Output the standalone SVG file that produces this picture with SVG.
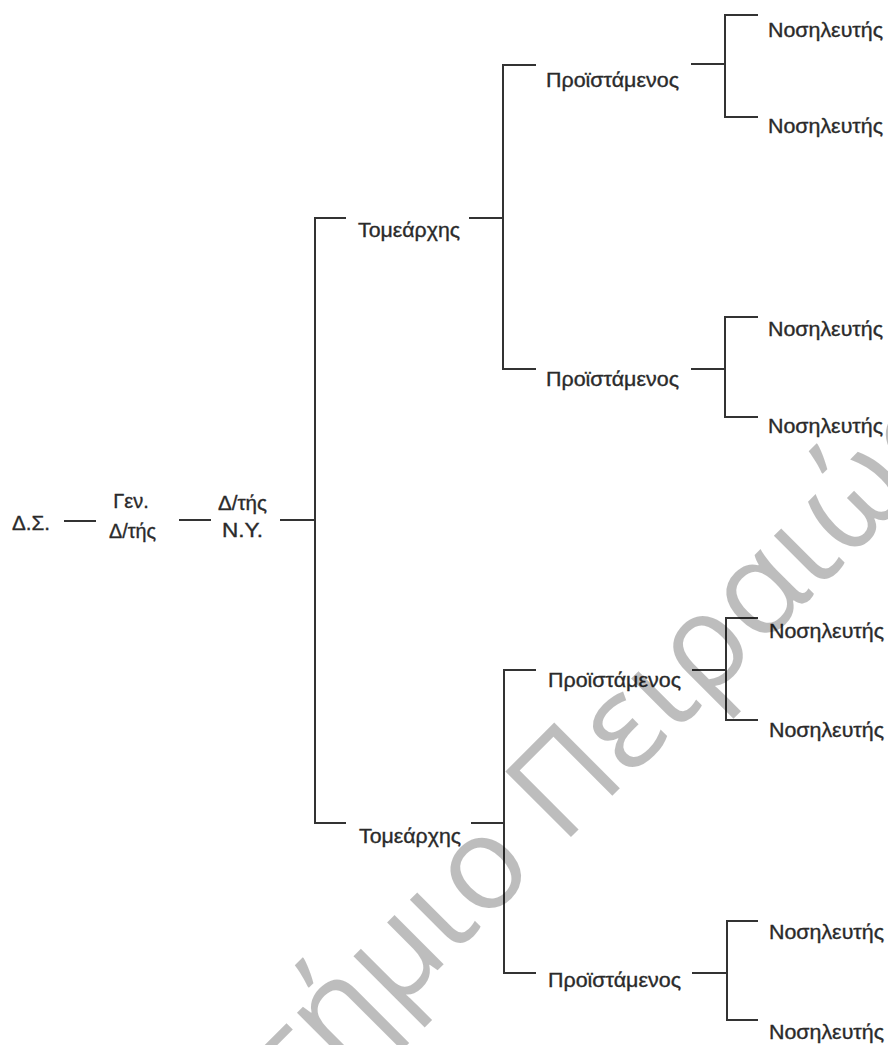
<svg xmlns="http://www.w3.org/2000/svg" width="888" height="1045" viewBox="0 0 888 1045">
<style>
.t{font-family:"Liberation Sans","DejaVu Sans",sans-serif;font-size:20px;fill:#2a2a2a;stroke:#2a2a2a;stroke-width:0.35}
.c line{stroke:#333;stroke-width:2;stroke-linecap:square}
.wm{font-family:"Open Sans","DejaVu Sans",sans-serif;font-weight:400;font-size:130px;fill:#000;fill-opacity:0.26}
</style>
<rect width="888" height="1045" fill="#fff"/>
<g class="c" id="connectors">
<line x1="65" y1="521" x2="95" y2="521"/>
<line x1="180" y1="520" x2="210" y2="520"/>
<line x1="281" y1="520" x2="315" y2="520"/>
<line x1="315" y1="218" x2="315" y2="823"/>
<line x1="315" y1="218" x2="345" y2="218"/>
<line x1="315" y1="823" x2="345" y2="823"/>
<line x1="470" y1="218" x2="503" y2="218"/>
<line x1="503" y1="65" x2="503" y2="369"/>
<line x1="503" y1="65" x2="535" y2="65"/>
<line x1="503" y1="369" x2="535" y2="369"/>
<line x1="692" y1="64" x2="725" y2="64"/>
<line x1="725" y1="15" x2="725" y2="117"/>
<line x1="725" y1="15" x2="757" y2="15"/>
<line x1="725" y1="117" x2="757" y2="117"/>
<line x1="692" y1="369" x2="725" y2="369"/>
<line x1="725" y1="317" x2="725" y2="417"/>
<line x1="725" y1="317" x2="757" y2="317"/>
<line x1="725" y1="417" x2="757" y2="417"/>
<line x1="472" y1="823" x2="504" y2="823"/>
<line x1="504" y1="670" x2="504" y2="973"/>
<line x1="504" y1="670" x2="535" y2="670"/>
<line x1="504" y1="973" x2="535" y2="973"/>
<line x1="693" y1="670" x2="726" y2="670"/>
<line x1="726" y1="618" x2="726" y2="720"/>
<line x1="726" y1="618" x2="757" y2="618"/>
<line x1="726" y1="720" x2="757" y2="720"/>
<line x1="693" y1="973" x2="727" y2="973"/>
<line x1="727" y1="921" x2="727" y2="1020"/>
<line x1="727" y1="921" x2="757" y2="921"/>
<line x1="727" y1="1020" x2="757" y2="1020"/>
</g>
<g id="n-ds"><text class="t" x="12" y="530" textLength="38" lengthAdjust="spacingAndGlyphs">Δ.Σ.</text></g>
<g id="n-gen"><text class="t" x="131" y="508" text-anchor="middle">Γεν.</text><text class="t" x="109" y="538" textLength="47" lengthAdjust="spacingAndGlyphs">Δ/τής</text></g>
<g id="n-dny"><text class="t" x="218" y="510" textLength="49" lengthAdjust="spacingAndGlyphs">Δ/τής</text><text class="t" x="222" y="537" textLength="41" lengthAdjust="spacingAndGlyphs">Ν.Υ.</text></g>
<g id="n-tom1"><text class="t" x="358" y="237" textLength="102" lengthAdjust="spacingAndGlyphs">Τομεάρχης</text></g>
<g id="n-tom2"><text class="t" x="359" y="843" textLength="102" lengthAdjust="spacingAndGlyphs">Τομεάρχης</text></g>
<g id="n-pr1"><text class="t" x="546" y="87" textLength="133" lengthAdjust="spacingAndGlyphs">Προϊστάμενος</text></g>
<g id="n-pr2"><text class="t" x="546" y="386" textLength="133" lengthAdjust="spacingAndGlyphs">Προϊστάμενος</text></g>
<g id="n-pr3"><text class="t" x="548" y="687" textLength="133" lengthAdjust="spacingAndGlyphs">Προϊστάμενος</text></g>
<g id="n-pr4"><text class="t" x="548" y="987" textLength="133" lengthAdjust="spacingAndGlyphs">Προϊστάμενος</text></g>
<g id="n-no1"><text class="t" x="768" y="37" textLength="115" lengthAdjust="spacingAndGlyphs">Νοσηλευτής</text></g>
<g id="n-no2"><text class="t" x="768" y="133" textLength="115" lengthAdjust="spacingAndGlyphs">Νοσηλευτής</text></g>
<g id="n-no3"><text class="t" x="768" y="336" textLength="115" lengthAdjust="spacingAndGlyphs">Νοσηλευτής</text></g>
<g id="n-no4"><text class="t" x="768" y="433" textLength="115" lengthAdjust="spacingAndGlyphs">Νοσηλευτής</text></g>
<g id="n-no5"><text class="t" x="769" y="638" textLength="115" lengthAdjust="spacingAndGlyphs">Νοσηλευτής</text></g>
<g id="n-no6"><text class="t" x="769" y="737" textLength="115" lengthAdjust="spacingAndGlyphs">Νοσηλευτής</text></g>
<g id="n-no7"><text class="t" x="769" y="939" textLength="115" lengthAdjust="spacingAndGlyphs">Νοσηλευτής</text></g>
<g id="n-no8"><text class="t" x="769" y="1039" textLength="115" lengthAdjust="spacingAndGlyphs">Νοσηλευτής</text></g>
<g id="watermark" transform="translate(562,846) rotate(-45)">
<text class="wm" x="-34" y="0" text-anchor="end">Πανεπιστήμιο</text>
<text class="wm" x="0" y="0">Πειραιώς</text>
</g>
</svg>
